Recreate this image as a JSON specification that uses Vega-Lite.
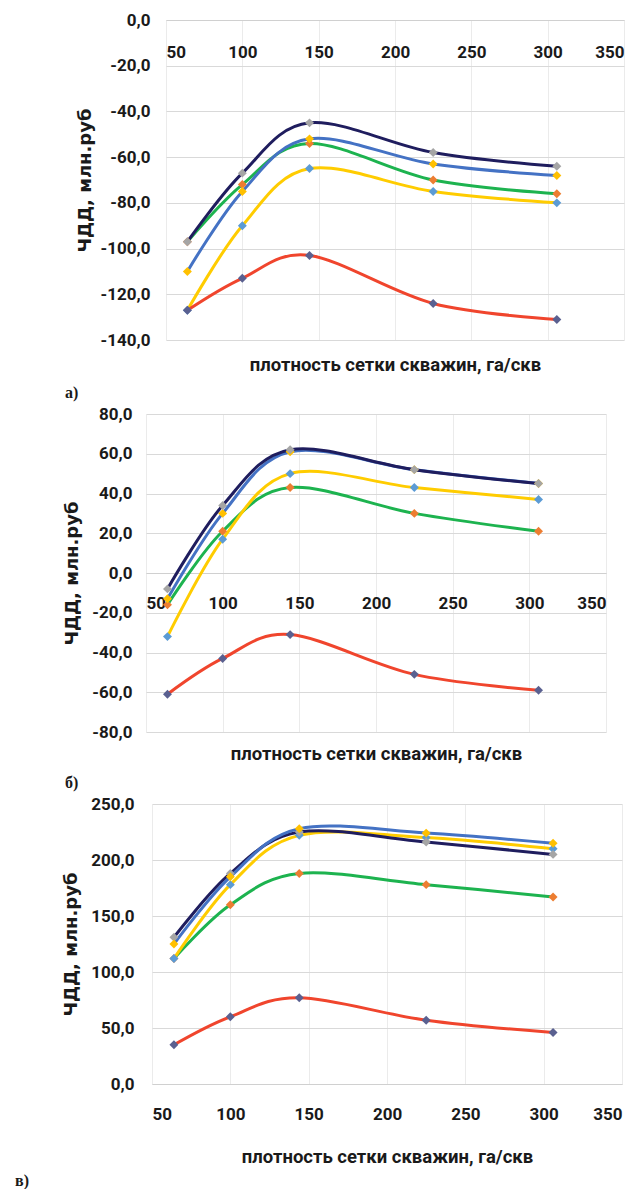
{
  "$schema": "https://vega.github.io/schema/vega-lite/v6.json",
  "padding": {"left": 15, "top": 11, "right": 5, "bottom": 0},
  "background": "white",
  "spacing": 4,
  "config": {
    "locale": {"number": {"decimal": ",", "thousands": " ", "grouping": [3], "currency": ["", ""], "minus": "-"}},
    "view": {"stroke": null},
    "axis": {"labelFont": "Roboto", "labelFontSize": 17, "labelFontWeight": "bold", "labelColor": "#1a1a1a", "titleColor": "#1a1a1a", "ticks": false},
    "axisY": {"titleFont": "DejaVu Sans", "titleFontSize": 18, "titleFontWeight": "bold", "grid": true, "gridColor": "#d9d9d9", "domain": false},
    "axisX": {"titleFont": "Roboto", "titleFontSize": 18.5, "titleFontWeight": "bold", "grid": true, "gridColor": "#ebebeb", "domainColor": "#d0d0d0"},
    "title": {"font": "Liberation Serif", "fontSize": 16, "fontWeight": "bold", "color": "#1a1a1a"}
  },
  "data": {"values": [
    {"p": "a", "s": "green", "x": 64, "y": -97}, {"p": "a", "s": "green", "x": 100, "y": -72}, {"p": "a", "s": "green", "x": 144, "y": -54}, {"p": "a", "s": "green", "x": 225, "y": -70}, {"p": "a", "s": "green", "x": 306, "y": -76},
    {"p": "a", "s": "yellow", "x": 64, "y": -127}, {"p": "a", "s": "yellow", "x": 100, "y": -90}, {"p": "a", "s": "yellow", "x": 144, "y": -65}, {"p": "a", "s": "yellow", "x": 225, "y": -75}, {"p": "a", "s": "yellow", "x": 306, "y": -80},
    {"p": "a", "s": "blue", "x": 64, "y": -110}, {"p": "a", "s": "blue", "x": 100, "y": -75}, {"p": "a", "s": "blue", "x": 144, "y": -52}, {"p": "a", "s": "blue", "x": 225, "y": -63}, {"p": "a", "s": "blue", "x": 306, "y": -68},
    {"p": "a", "s": "navy", "x": 64, "y": -97}, {"p": "a", "s": "navy", "x": 100, "y": -67}, {"p": "a", "s": "navy", "x": 144, "y": -45}, {"p": "a", "s": "navy", "x": 225, "y": -58}, {"p": "a", "s": "navy", "x": 306, "y": -64},
    {"p": "a", "s": "red", "x": 64, "y": -127}, {"p": "a", "s": "red", "x": 100, "y": -113}, {"p": "a", "s": "red", "x": 144, "y": -103}, {"p": "a", "s": "red", "x": 225, "y": -124}, {"p": "a", "s": "red", "x": 306, "y": -131},
    {"p": "b", "s": "green", "x": 64, "y": -16}, {"p": "b", "s": "green", "x": 100, "y": 21}, {"p": "b", "s": "green", "x": 144, "y": 43}, {"p": "b", "s": "green", "x": 225, "y": 30}, {"p": "b", "s": "green", "x": 306, "y": 21},
    {"p": "b", "s": "yellow", "x": 64, "y": -32}, {"p": "b", "s": "yellow", "x": 100, "y": 17}, {"p": "b", "s": "yellow", "x": 144, "y": 50}, {"p": "b", "s": "yellow", "x": 225, "y": 43}, {"p": "b", "s": "yellow", "x": 306, "y": 37},
    {"p": "b", "s": "blue", "x": 64, "y": -13}, {"p": "b", "s": "blue", "x": 100, "y": 30}, {"p": "b", "s": "blue", "x": 144, "y": 61}, {"p": "b", "s": "blue", "x": 225, "y": 52}, {"p": "b", "s": "blue", "x": 306, "y": 45},
    {"p": "b", "s": "navy", "x": 64, "y": -8}, {"p": "b", "s": "navy", "x": 100, "y": 34}, {"p": "b", "s": "navy", "x": 144, "y": 62}, {"p": "b", "s": "navy", "x": 225, "y": 52}, {"p": "b", "s": "navy", "x": 306, "y": 45},
    {"p": "b", "s": "red", "x": 64, "y": -61}, {"p": "b", "s": "red", "x": 100, "y": -43}, {"p": "b", "s": "red", "x": 144, "y": -31}, {"p": "b", "s": "red", "x": 225, "y": -51}, {"p": "b", "s": "red", "x": 306, "y": -59},
    {"p": "c", "s": "green", "x": 64, "y": 112}, {"p": "c", "s": "green", "x": 100, "y": 160}, {"p": "c", "s": "green", "x": 144, "y": 188}, {"p": "c", "s": "green", "x": 225, "y": 178}, {"p": "c", "s": "green", "x": 306, "y": 167},
    {"p": "c", "s": "yellow", "x": 64, "y": 112}, {"p": "c", "s": "yellow", "x": 100, "y": 178}, {"p": "c", "s": "yellow", "x": 144, "y": 222}, {"p": "c", "s": "yellow", "x": 225, "y": 220}, {"p": "c", "s": "yellow", "x": 306, "y": 210},
    {"p": "c", "s": "navy", "x": 64, "y": 131}, {"p": "c", "s": "navy", "x": 100, "y": 188}, {"p": "c", "s": "navy", "x": 144, "y": 225}, {"p": "c", "s": "navy", "x": 225, "y": 216}, {"p": "c", "s": "navy", "x": 306, "y": 205},
    {"p": "c", "s": "blue", "x": 64, "y": 125}, {"p": "c", "s": "blue", "x": 100, "y": 185}, {"p": "c", "s": "blue", "x": 144, "y": 228}, {"p": "c", "s": "blue", "x": 225, "y": 224}, {"p": "c", "s": "blue", "x": 306, "y": 215},
    {"p": "c", "s": "red", "x": 64, "y": 35}, {"p": "c", "s": "red", "x": 100, "y": 60}, {"p": "c", "s": "red", "x": 144, "y": 77}, {"p": "c", "s": "red", "x": 225, "y": 57}, {"p": "c", "s": "red", "x": 306, "y": 46}
  ]},
  "vconcat": [
    {
      "width": 478, "height": 320,
      "transform": [{"filter": "datum.p == 'a'"}],
      "title": {"text": "а)", "orient": "bottom", "anchor": "start", "frame": "group", "dx": -81, "offset": 11},
      "encoding": {
        "x": {"field": "x", "type": "quantitative", "scale": {"domain": [50, 350], "range": [20, 478], "nice": false, "zero": false},
              "axis": {"values": [50, 100, 150, 200, 250, 300, 350], "format": "d", "offset": -320, "labelPadding": 24, "title": "плотность сетки скважин, га/скв", "titlePadding": 295}},
        "y": {"field": "y", "type": "quantitative", "scale": {"domain": [-140, 0], "nice": false, "zero": false},
              "axis": {"values": [-140, -120, -100, -80, -60, -40, -20, 0], "format": ".1f", "title": "ЧДД, млн.руб", "offset": -20, "labelPadding": 16, "titlePadding": 6}}
      },
      "layer": [
        {"mark": {"type": "line", "interpolate": "cardinal", "strokeWidth": 3},
         "encoding": {"stroke": {"field": "s", "type": "nominal", "scale": {"domain": ["navy", "blue", "green", "yellow", "red"], "range": ["#1f1d5e", "#4472c4", "#1db34f", "#ffcc00", "#f0452d"]}, "legend": null}}},
        {"mark": {"type": "point", "shape": "diamond", "filled": true, "size": 80, "opacity": 1},
         "encoding": {"fill": {"field": "s", "type": "nominal", "scale": {"domain": ["navy", "blue", "green", "yellow", "red"], "range": ["#a5a5a5", "#ffc000", "#ed7d31", "#5b9bd5", "#5a6090"]}, "legend": null}}}
      ]
    },
    {
      "width": 460, "height": 318,
      "transform": [{"filter": "datum.p == 'b'"}],
      "title": {"text": "б)", "orient": "bottom", "anchor": "start", "frame": "group", "dx": -81, "offset": 12},
      "encoding": {
        "x": {"field": "x", "type": "quantitative", "scale": {"domain": [50, 350], "range": [0, 460], "nice": false, "zero": false},
              "axis": {"values": [50, 100, 150, 200, 250, 300, 350], "format": "d", "offset": -159, "labelPadding": 22, "title": "плотность сетки скважин, га/скв", "titlePadding": 133}},
        "y": {"field": "y", "type": "quantitative", "scale": {"domain": [-80, 80], "nice": false, "zero": false},
              "axis": {"values": [-80, -60, -40, -20, 0, 20, 40, 60, 80], "format": ".1f", "title": "ЧДД, млн.руб", "labelPadding": 14, "titlePadding": 10}}
      },
      "layer": [
        {"mark": {"type": "line", "interpolate": "cardinal", "strokeWidth": 3},
         "encoding": {"stroke": {"field": "s", "type": "nominal", "scale": {"domain": ["navy", "blue", "green", "yellow", "red"], "range": ["#1f1d5e", "#4472c4", "#1db34f", "#ffcc00", "#f0452d"]}, "legend": null}}},
        {"mark": {"type": "point", "shape": "diamond", "filled": true, "size": 80, "opacity": 1},
         "encoding": {"fill": {"field": "s", "type": "nominal", "scale": {"domain": ["navy", "blue", "green", "yellow", "red"], "range": ["#a5a5a5", "#ffc000", "#ed7d31", "#5b9bd5", "#5a6090"]}, "legend": null}}}
      ]
    },
    {
      "width": 476, "height": 280,
      "transform": [{"filter": "datum.p == 'c'"}],
      "title": {"text": "в)", "orient": "bottom", "anchor": "start", "frame": "group", "dx": -131, "offset": 7},
      "encoding": {
        "x": {"field": "x", "type": "quantitative", "scale": {"domain": [50, 350], "range": [6, 476], "nice": false, "zero": false},
              "axis": {"values": [50, 100, 150, 200, 250, 300, 350], "format": "d", "labelPadding": 22, "title": "плотность сетки скважин, га/скв", "titlePadding": 25}},
        "y": {"field": "y", "type": "quantitative", "scale": {"domain": [0, 250], "nice": false, "zero": false},
              "axis": {"values": [0, 50, 100, 150, 200, 250], "format": ".1f", "title": "ЧДД, млн.руб", "offset": -6, "labelPadding": 18, "titlePadding": 10}}
      },
      "layer": [
        {"mark": {"type": "line", "interpolate": "cardinal", "strokeWidth": 3},
         "encoding": {"stroke": {"field": "s", "type": "nominal", "scale": {"domain": ["navy", "blue", "green", "yellow", "red"], "range": ["#1f1d5e", "#4472c4", "#1db34f", "#ffcc00", "#f0452d"]}, "legend": null}}},
        {"mark": {"type": "point", "shape": "diamond", "filled": true, "size": 80, "opacity": 1},
         "encoding": {"fill": {"field": "s", "type": "nominal", "scale": {"domain": ["navy", "blue", "green", "yellow", "red"], "range": ["#a5a5a5", "#ffc000", "#ed7d31", "#5b9bd5", "#5a6090"]}, "legend": null}}}
      ]
    }
  ]
}
